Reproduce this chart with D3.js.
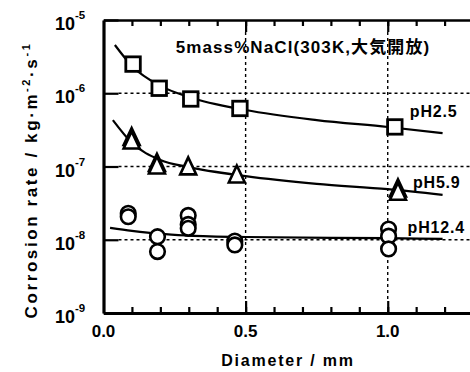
<!DOCTYPE html>
<html>
<head>
<meta charset="utf-8">
<script src="https://cdn.jsdelivr.net/npm/d3@7"></script>
<style>
  body { margin: 0; background: #fff; }
  svg { display: block; }
  text { font-family: "Liberation Sans", Arial, "Noto Sans CJK JP", sans-serif; font-weight: bold; fill: #000; }
</style>
</head>
<body>
<svg width="470" height="372"></svg>
<script>
// ---- data ----
var xTickLabels = [0, 0.5, 1.0];
var yDecades = [1e-9, 1e-8, 1e-7, 1e-6, 1e-5];
var yExponents = [-9, -8, -7, -6, -5];

// pH 2.5 (squares)
var sqX = [0.104, 0.196, 0.307, 0.48, 1.025];
var sqY = [2.5e-6, 1.17e-6, 8.35e-7, 6.2e-7, 3.47e-7];
// pH 5.9 (triangles)
var triX = [0.099, 0.099, 0.188, 0.188, 0.298, 0.469, 1.036, 1.036];
var triY = [2.57e-7, 2.3e-7, 1.14e-7, 1.05e-7, 1.02e-7, 7.9e-8, 5.1e-8, 4.6e-8];
// pH 12.4 (circles)
var cirX = [0.087, 0.087, 0.19, 0.19, 0.298, 0.298, 0.298, 0.462, 0.462, 1.003, 1.003, 1.003];
var cirY = [2.3e-8, 2.06e-8, 1.1e-8, 6.9e-9, 2.15e-8, 1.62e-8, 1.43e-8, 9.6e-9, 8.5e-9, 1.4e-8, 1.12e-8, 7.5e-9];

// fitted curves
var fit25X = [0.04, 0.1, 0.2, 0.3, 0.5, 0.75, 1.0, 1.193];
var fit25Y = [4.56e-6, 2.36e-6, 1.26e-6, 8.9e-7, 5.9e-7, 4.3e-7, 3.46e-7, 2.86e-7];
var fit59X = [0.033, 0.1, 0.2, 0.3, 0.5, 0.75, 1.0, 1.193];
var fit59Y = [4.3e-7, 2.1e-7, 1.23e-7, 9.8e-8, 7.4e-8, 5.8e-8, 4.9e-8, 4.1e-8];
var fit124X = [0.023, 0.1, 0.2, 0.3, 0.5, 1.0, 1.193];
var fit124Y = [1.45e-8, 1.32e-8, 1.2e-8, 1.14e-8, 1.09e-8, 1.05e-8, 1.03e-8];

var seriesNames = ["pH2.5", "pH5.9", "pH12.4"];
var titleText = "5mass%NaCl(303K,大気開放)";

// ---- layout ----
var svg = d3.select("svg"),
    margin = {top: 20, left: 103.5},
    width = 369.5,
    height = 293;

var x = d3.scaleLinear().domain([0, 1.3]).range([margin.left, margin.left + width]);
var y = d3.scaleLog().domain([1e-9, 1e-5]).range([margin.top + height, margin.top]);

var xMinor = d3.range(1, 13).map(function(i) { return i / 10; });
var xMajor = [0.5, 1.0];

// grid
var grid = svg.append("g").attr("stroke", "#000").attr("stroke-width", 1.4).attr("stroke-dasharray", "3,3");
grid.selectAll(".h").data([1e-8, 1e-7, 1e-6]).enter().append("line")
    .attr("x1", margin.left + 15).attr("x2", x(1.3))
    .attr("y1", function(d) { return y(d); }).attr("y2", function(d) { return y(d); });
grid.selectAll(".v").data(xMajor).enter().append("line")
    .attr("y1", y(1e-5) + 12).attr("y2", y(1e-9) - 12)
    .attr("x1", function(d) { return x(d); }).attr("x2", function(d) { return x(d); });

// axes
function styleAxis(g, w) {
  g.selectAll(".domain").attr("stroke", "#000").attr("stroke-width", w);
  g.selectAll(".tick line").attr("stroke", "#000").attr("stroke-width", 2.2);
}
var gBottom = svg.append("g").attr("transform", "translate(0," + y(1e-9) + ")");
gBottom.call(d3.axisBottom(x).tickValues(xMinor).tickSizeInner(-6).tickSizeOuter(0).tickFormat(""));
styleAxis(gBottom, 3.2);
var gBottomMajor = svg.append("g").attr("transform", "translate(0," + y(1e-9) + ")");
gBottomMajor.call(d3.axisBottom(x).tickValues(xMajor).tickSizeInner(-12).tickSizeOuter(0).tickFormat(""));
gBottomMajor.select(".domain").remove();
styleAxis(gBottomMajor, 0);

var gTop = svg.append("g").attr("transform", "translate(0," + y(1e-5) + ")");
gTop.call(d3.axisTop(x).tickValues(xMinor).tickSizeInner(-6).tickSizeOuter(0).tickFormat(""));
styleAxis(gTop, 2.6);
var gTopMajor = svg.append("g").attr("transform", "translate(0," + y(1e-5) + ")");
gTopMajor.call(d3.axisTop(x).tickValues(xMajor).tickSizeInner(-12).tickSizeOuter(0).tickFormat(""));
gTopMajor.select(".domain").remove();
styleAxis(gTopMajor, 0);

var gLeft = svg.append("g").attr("transform", "translate(" + margin.left + ",0)");
gLeft.call(d3.axisLeft(y).tickValues(yDecades).tickSizeInner(-15).tickSizeOuter(0).tickFormat(""));
styleAxis(gLeft, 3.2);

// x tick labels
svg.selectAll(".xlab").data(xTickLabels).enter().append("text")
    .attr("x", function(d) { return x(d); })
    .attr("y", 337)
    .attr("text-anchor", "middle")
    .attr("font-size", 17)
    .text(d3.format(".1f"));

// y tick labels 10^n
var ylab = svg.selectAll(".ylab").data(yDecades).enter().append("text")
    .attr("x", 55)
    .attr("y", function(d) { return y(d) + 10; })
    .attr("font-size", 18);
ylab.append("tspan").text("10");
ylab.append("tspan").attr("dy", -11).attr("font-size", 11.5)
    .text(function(d, i) { return "-" + (-yExponents[i]); });

// axis titles
svg.append("text")
    .attr("x", 288).attr("y", 366)
    .attr("text-anchor", "middle")
    .attr("font-size", 16)
    .attr("letter-spacing", 1.8)
    .text("Diameter / mm");

var yt = svg.append("text")
    .attr("transform", "translate(37,180) rotate(-90)")
    .attr("text-anchor", "middle")
    .attr("font-size", 17)
    .attr("letter-spacing", 2.6);
yt.append("tspan").text("Corrosion rate / kg·m");
yt.append("tspan").attr("dy", -7).attr("font-size", 11).text("-2");
yt.append("tspan").attr("dy", 7).text("·s");
yt.append("tspan").attr("dy", -7).attr("font-size", 11).text("-1");

// title
svg.append("text")
    .attr("x", 303).attr("y", 53)
    .attr("text-anchor", "middle")
    .attr("font-size", 17)
    .attr("letter-spacing", 1.1)
    .text(titleText);

// fitted curves
var line = d3.line()
    .x(function(d) { return x(d[0]); })
    .y(function(d) { return y(d[1]); })
    .curve(d3.curveMonotoneX);
[[fit25X, fit25Y], [fit59X, fit59Y], [fit124X, fit124Y]].forEach(function(f) {
  svg.append("path")
      .datum(d3.zip(f[0], f[1]))
      .attr("fill", "none")
      .attr("stroke", "#000")
      .attr("stroke-width", 2.2)
      .attr("d", line);
});

// markers
svg.selectAll(".cir").data(d3.zip(cirX, cirY)).enter().append("circle")
    .attr("cx", function(d) { return x(d[0]); })
    .attr("cy", function(d) { return y(d[1]); })
    .attr("r", 7.3)
    .attr("fill", "#fff").attr("stroke", "#000").attr("stroke-width", 2.6);

var tw = 16, th = 17;
svg.selectAll(".tri").data(d3.zip(triX, triY)).enter().append("path")
    .attr("d", "M0," + (-th / 2) + "L" + (tw / 2) + "," + (th / 2) + "L" + (-tw / 2) + "," + (th / 2) + "Z")
    .attr("transform", function(d) { return "translate(" + x(d[0]) + "," + y(d[1]) + ")"; })
    .attr("fill", "#fff").attr("stroke", "#000").attr("stroke-width", 2.6).attr("stroke-linejoin", "miter");

var ss = 14.5;
svg.selectAll(".sq").data(d3.zip(sqX, sqY)).enter().append("rect")
    .attr("x", function(d) { return x(d[0]) - ss / 2; })
    .attr("y", function(d) { return y(d[1]) - ss / 2; })
    .attr("width", ss).attr("height", ss)
    .attr("fill", "#fff").attr("stroke", "#000").attr("stroke-width", 2.8);

// series labels beside the last points
var lastPts = [[sqX[4], sqY[4]], [triX[6], triY[6]], [cirX[9], cirY[9]]];
var labelOffsets = [[15, -10], [15, 0], [19, 4]];
svg.selectAll(".slab").data(seriesNames).enter().append("text")
    .attr("x", function(d, i) { return x(lastPts[i][0]) + labelOffsets[i][0]; })
    .attr("y", function(d, i) { return y(lastPts[i][1]) + labelOffsets[i][1]; })
    .attr("font-size", 16)
    .attr("letter-spacing", 0.8)
    .text(function(d) { return d; });
</script>
</body>
</html>
